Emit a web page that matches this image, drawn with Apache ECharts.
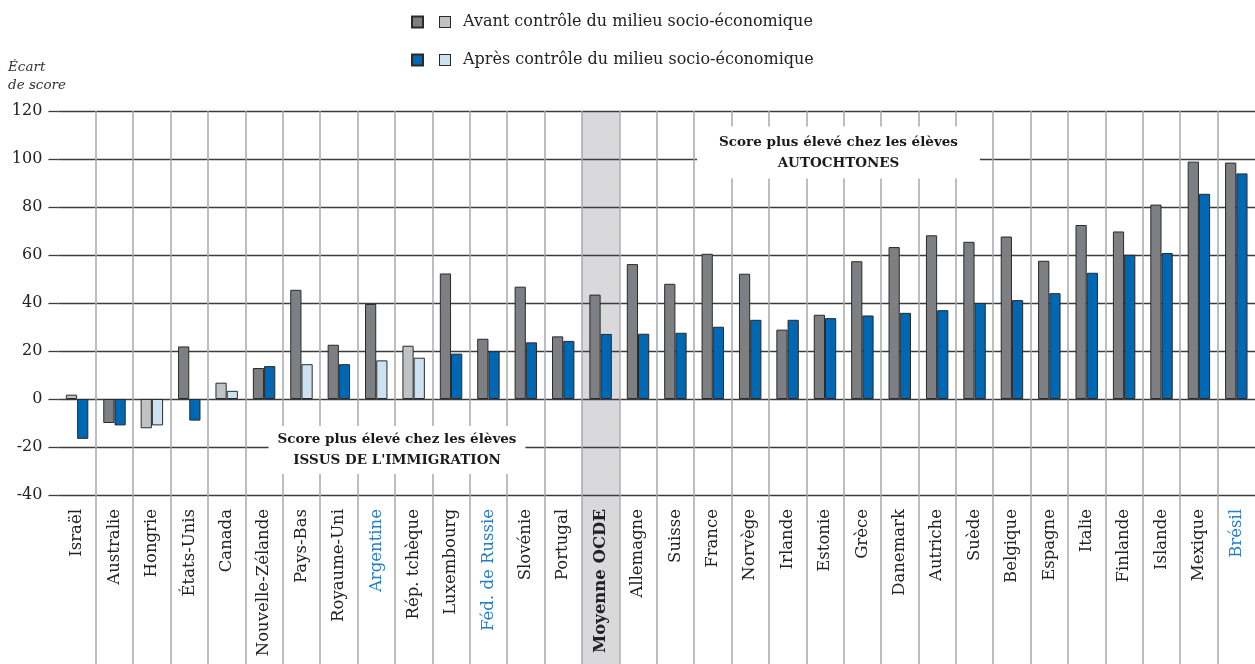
<!DOCTYPE html>
<html>
<head>
<meta charset="utf-8">
<script src="https://cdn.jsdelivr.net/npm/echarts@6/dist/echarts.min.js"></script>
<style>
html,body{margin:0;padding:0;background:#fff;}
#chart{width:1255px;height:664px;}
</style>
</head>
<body>
<div id="chart"></div>
<script>
const categories = ['Israël','Australie','Hongrie','États-Unis','Canada','Nouvelle-Zélande','Pays-Bas','Royaume-Uni','Argentine','Rép. tchèque','Luxembourg','Féd. de Russie','Slovénie','Portugal','Moyenne OCDE','Allemagne','Suisse','France','Norvège','Irlande','Estonie','Grèce','Danemark','Autriche','Suède','Belgique','Espagne','Italie','Finlande','Islande','Mexique','Brésil'];
const seriesNames = ['Avant contrôle du milieu socio-économique','Après contrôle du milieu socio-économique'];
const before = [1.8,-10,-12.2,21.9,6.8,12.9,45.5,22.6,39.6,22.2,52.3,25.1,46.8,26.1,43.5,56.2,48.0,60.5,52.2,28.9,35.1,57.4,63.3,68.2,65.5,67.7,57.6,72.5,69.8,81.0,98.9,98.5];
const after = [-16.6,-11,-11,-9,3.4,13.7,14.5,14.5,16.1,17.2,18.9,19.9,23.6,24.2,27.1,27.2,27.6,30.1,33.0,33.0,33.7,34.8,35.9,37.0,40.0,41.2,44.1,52.6,60.1,60.8,85.5,94.0];
// 1 = statistically significant (dark), 0 = not significant (light)
const sigBefore = [0,1,0,1,0,1,1,1,1,0,1,1,1,1,1,1,1,1,1,1,1,1,1,1,1,1,1,1,1,1,1,1];
const sigAfter  = [1,1,0,1,0,1,0,1,0,0,1,1,1,1,1,1,1,1,1,1,1,1,1,1,1,1,1,1,1,1,1,1];
const partners = ['Argentine','Féd. de Russie','Brésil'];
const average = 'Moyenne OCDE';
const yTicks = {min:-40, max:120, interval:20};
const yName = 'Écart\nde score';
const noteTop = 'Score plus élevé chez les élèves\nAUTOCHTONES';
const noteBottom = 'Score plus élevé chez les élèves\nISSUS DE L\'IMMIGRATION';

const FONT = '"DejaVu Serif", "Liberation Serif", serif';
const DARK = ['#7e7f83','#0067b2'];
const LIGHT = ['#c1c2c4','#cde2f1'];
const BORDER = '#2a2a2a';

function mk(vals, sig, k){
  return vals.map((v,i)=>({value:v, itemStyle:{color: sig[i] ? DARK[k] : LIGHT[k]}}));
}

const chart = echarts.init(document.getElementById('chart'), null, {renderer:'canvas'});
const avgIdx = categories.indexOf(average);

const shade = (gi) => ({
  type:'custom', xAxisIndex:gi, yAxisIndex:gi, silent:true, z:-1,
  data:[[avgIdx, 0]], encode:{x:0,y:1},
  renderItem:(params, api)=>{
    const x = api.coord([api.value(0), 0])[0];
    const w = api.size([1,0])[0];
    const cs = params.coordSys;
    return {type:'rect', shape:{x:x-w/2, y:cs.y, width:w, height:cs.height}, style:{fill:'#d9d9db'}};
  }
});

const vSplit = {show:true, interval:0, showMinLine:false, showMaxLine:false, lineStyle:{color:'#a8a8a8', width:1.5}};

const option = {
  animation:false,
  textStyle:{fontFamily:FONT},
  legend:{
    orient:'vertical', left:406, top:9, itemWidth:11, itemHeight:11, itemGap:22,
    icon:'rect',
    data:seriesNames,
    textStyle:{fontFamily:FONT, fontSize:16, color:'#222', lineHeight:16,
      rich:{
        g:{width:12},
        s0:{width:10, height:10, backgroundColor:LIGHT[0], borderColor:BORDER, borderWidth:1},
        s1:{width:10, height:10, backgroundColor:LIGHT[1], borderColor:BORDER, borderWidth:1},
        g2:{width:13},
        t:{fontFamily:FONT, fontSize:16, color:'#222'}
      }},
    formatter:(name)=>'{g|}{s'+seriesNames.indexOf(name)+'|}{g2|}{t|'+name+'}'
  },
  grid:[
    {left:58.4, right:0, top:111, bottom:169, containLabel:false},
    {left:58.4, right:0, top:495, bottom:0, containLabel:false}
  ],
  xAxis:[
    {type:'category', gridIndex:0, data:categories,
     axisLine:{show:false, onZero:false}, axisTick:{show:false},
     splitLine:vSplit,
     axisLabel:{interval:0, rotate:90, margin:14, fontSize:16.5, color:'#222', fontFamily:FONT,
       formatter:(v)=> v===average ? '{b|'+v+'}' : (partners.includes(v) ? '{p|'+v+'}' : v),
       rich:{b:{fontWeight:'bold', fontSize:16.5, color:'#222', fontFamily:FONT},
             p:{color:'#2a7cc2', fontSize:16.5, fontFamily:FONT}}}
    },
    {type:'category', gridIndex:1, data:categories,
     axisLine:{show:false}, axisTick:{show:false}, axisLabel:{show:false},
     splitLine:vSplit
    }
  ],
  yAxis:[
    {type:'value', gridIndex:0, min:yTicks.min, max:yTicks.max, interval:yTicks.interval,
     axisLine:{show:false},
     axisTick:{show:true, length:10, lineStyle:{color:'#3c3c3c', width:1.3}},
     splitLine:{show:true, lineStyle:{color:'#3c3c3c', width:1.3}},
     axisLabel:{margin:16, fontSize:16, color:'#222', fontFamily:FONT}
    },
    {type:'value', gridIndex:1, min:0, max:1, show:false}
  ],
  series:[
    shade(0), shade(1),
    {name:seriesNames[0], type:'bar', xAxisIndex:0, yAxisIndex:0, barGap:0, barWidth:'30%',
     itemStyle:{color:DARK[0], borderColor:BORDER, borderWidth:1}, data:mk(before, sigBefore, 0)},
    {name:seriesNames[1], type:'bar', xAxisIndex:0, yAxisIndex:0, barGap:0, barWidth:'30%',
     itemStyle:{color:DARK[1], borderColor:BORDER, borderWidth:1}, data:mk(after, sigAfter, 1)}
  ],
  graphic:[
    {type:'text', left:8, top:58, z:100,
     style:{text:yName, font:'italic 13.5px '+FONT, fill:'#333', lineHeight:18}},
    {type:'text', x:838.5, y:152.5, z:100,
     style:{text:noteTop, font:'bold 13.5px '+FONT, fill:'#1a1a1a', align:'center', verticalAlign:'middle',
            lineHeight:21, backgroundColor:'#fff', padding:[5,22,5,22]}},
    {type:'text', x:397, y:450, z:100,
     style:{text:noteBottom, font:'bold 13.5px '+FONT, fill:'#1a1a1a', align:'center', verticalAlign:'middle',
            lineHeight:21, backgroundColor:'#fff', padding:[3,9,3,9]}}
  ]
};
chart.setOption(option);
</script>
</body>
</html>
